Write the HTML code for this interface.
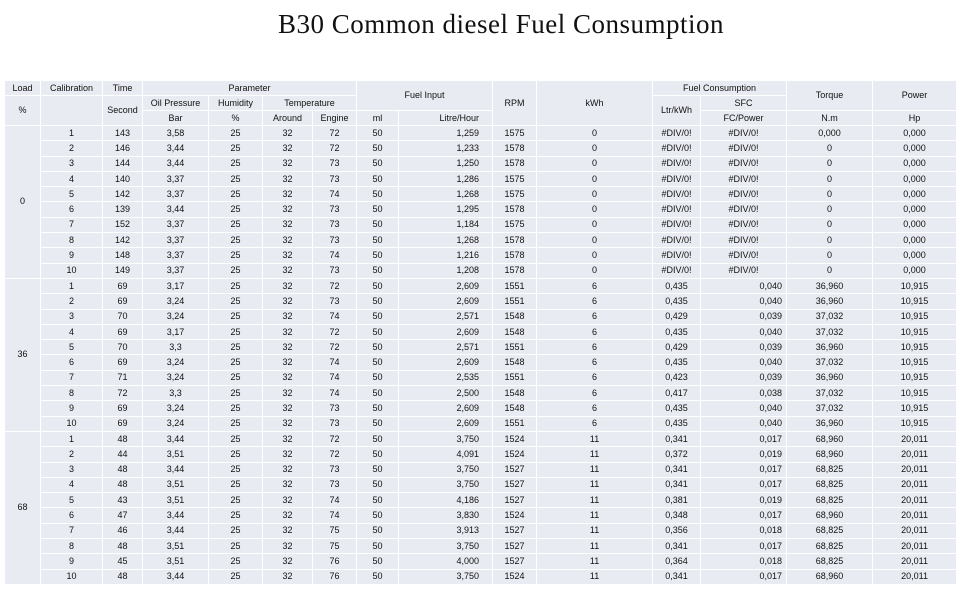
<!DOCTYPE html>
<html><head><meta charset="utf-8"><style>
html,body{margin:0;padding:0;background:#fff;width:960px;height:591px;overflow:hidden}
h1{position:absolute;left:0;width:1002px;top:9px;margin:0;text-align:center;font:27px "Liberation Serif",serif;color:#111;letter-spacing:0.5px}
table{position:absolute;left:4px;top:80px;width:952px;border-collapse:collapse;table-layout:fixed;font:9px "Liberation Sans",sans-serif;color:#111}
td{background:#e8ebf1;border:1px solid #fff;padding:0 3px;text-align:center;white-space:nowrap;overflow:hidden;height:14.3px;line-height:13px}
thead td{height:14px;font-size:9px}
.r{text-align:right;padding-right:13px}
.s{text-align:right;padding-right:4px}
</style></head><body>
<h1>B30 Common diesel Fuel Consumption</h1>
<table>
<colgroup><col style="width:36px"><col style="width:62px"><col style="width:40px"><col style="width:66px"><col style="width:54px"><col style="width:50px"><col style="width:44px"><col style="width:42px"><col style="width:94px"><col style="width:44px"><col style="width:116px"><col style="width:48px"><col style="width:86px"><col style="width:86px"><col style="width:84px"></colgroup>
<thead>
<tr><td>Load</td><td>Calibration</td><td>Time</td><td colspan="4">Parameter</td><td colspan="2" rowspan="2">Fuel Input</td><td rowspan="3">RPM</td><td rowspan="3">kWh</td><td colspan="2">Fuel Consumption</td><td rowspan="2">Torque</td><td rowspan="2">Power</td></tr>
<tr><td rowspan="2">%</td><td rowspan="2"></td><td rowspan="2">Second</td><td>Oil Pressure</td><td>Humidity</td><td colspan="2">Temperature</td><td rowspan="2">Ltr/kWh</td><td>SFC</td></tr>
<tr><td>Bar</td><td>%</td><td>Around</td><td>Engine</td><td>ml</td><td class="r">Litre/Hour</td><td>FC/Power</td><td>N.m</td><td>Hp</td></tr>
</thead>
<tbody>
<tr><td rowspan="10">0</td><td>1</td><td>143</td><td>3,58</td><td>25</td><td>32</td><td>72</td><td>50</td><td class="r">1,259</td><td>1575</td><td>0</td><td>#DIV/0!</td><td>#DIV/0!</td><td>0,000</td><td>0,000</td></tr>
<tr><td>2</td><td>146</td><td>3,44</td><td>25</td><td>32</td><td>72</td><td>50</td><td class="r">1,233</td><td>1578</td><td>0</td><td>#DIV/0!</td><td>#DIV/0!</td><td>0</td><td>0,000</td></tr>
<tr><td>3</td><td>144</td><td>3,44</td><td>25</td><td>32</td><td>73</td><td>50</td><td class="r">1,250</td><td>1578</td><td>0</td><td>#DIV/0!</td><td>#DIV/0!</td><td>0</td><td>0,000</td></tr>
<tr><td>4</td><td>140</td><td>3,37</td><td>25</td><td>32</td><td>73</td><td>50</td><td class="r">1,286</td><td>1575</td><td>0</td><td>#DIV/0!</td><td>#DIV/0!</td><td>0</td><td>0,000</td></tr>
<tr><td>5</td><td>142</td><td>3,37</td><td>25</td><td>32</td><td>74</td><td>50</td><td class="r">1,268</td><td>1575</td><td>0</td><td>#DIV/0!</td><td>#DIV/0!</td><td>0</td><td>0,000</td></tr>
<tr><td>6</td><td>139</td><td>3,44</td><td>25</td><td>32</td><td>73</td><td>50</td><td class="r">1,295</td><td>1578</td><td>0</td><td>#DIV/0!</td><td>#DIV/0!</td><td>0</td><td>0,000</td></tr>
<tr><td>7</td><td>152</td><td>3,37</td><td>25</td><td>32</td><td>73</td><td>50</td><td class="r">1,184</td><td>1575</td><td>0</td><td>#DIV/0!</td><td>#DIV/0!</td><td>0</td><td>0,000</td></tr>
<tr><td>8</td><td>142</td><td>3,37</td><td>25</td><td>32</td><td>73</td><td>50</td><td class="r">1,268</td><td>1578</td><td>0</td><td>#DIV/0!</td><td>#DIV/0!</td><td>0</td><td>0,000</td></tr>
<tr><td>9</td><td>148</td><td>3,37</td><td>25</td><td>32</td><td>74</td><td>50</td><td class="r">1,216</td><td>1578</td><td>0</td><td>#DIV/0!</td><td>#DIV/0!</td><td>0</td><td>0,000</td></tr>
<tr><td>10</td><td>149</td><td>3,37</td><td>25</td><td>32</td><td>73</td><td>50</td><td class="r">1,208</td><td>1578</td><td>0</td><td>#DIV/0!</td><td>#DIV/0!</td><td>0</td><td>0,000</td></tr>
<tr><td rowspan="10">36</td><td>1</td><td>69</td><td>3,17</td><td>25</td><td>32</td><td>72</td><td>50</td><td class="r">2,609</td><td>1551</td><td>6</td><td>0,435</td><td class="s">0,040</td><td>36,960</td><td>10,915</td></tr>
<tr><td>2</td><td>69</td><td>3,24</td><td>25</td><td>32</td><td>73</td><td>50</td><td class="r">2,609</td><td>1551</td><td>6</td><td>0,435</td><td class="s">0,040</td><td>36,960</td><td>10,915</td></tr>
<tr><td>3</td><td>70</td><td>3,24</td><td>25</td><td>32</td><td>74</td><td>50</td><td class="r">2,571</td><td>1548</td><td>6</td><td>0,429</td><td class="s">0,039</td><td>37,032</td><td>10,915</td></tr>
<tr><td>4</td><td>69</td><td>3,17</td><td>25</td><td>32</td><td>72</td><td>50</td><td class="r">2,609</td><td>1548</td><td>6</td><td>0,435</td><td class="s">0,040</td><td>37,032</td><td>10,915</td></tr>
<tr><td>5</td><td>70</td><td>3,3</td><td>25</td><td>32</td><td>72</td><td>50</td><td class="r">2,571</td><td>1551</td><td>6</td><td>0,429</td><td class="s">0,039</td><td>36,960</td><td>10,915</td></tr>
<tr><td>6</td><td>69</td><td>3,24</td><td>25</td><td>32</td><td>74</td><td>50</td><td class="r">2,609</td><td>1548</td><td>6</td><td>0,435</td><td class="s">0,040</td><td>37,032</td><td>10,915</td></tr>
<tr><td>7</td><td>71</td><td>3,24</td><td>25</td><td>32</td><td>74</td><td>50</td><td class="r">2,535</td><td>1551</td><td>6</td><td>0,423</td><td class="s">0,039</td><td>36,960</td><td>10,915</td></tr>
<tr><td>8</td><td>72</td><td>3,3</td><td>25</td><td>32</td><td>74</td><td>50</td><td class="r">2,500</td><td>1548</td><td>6</td><td>0,417</td><td class="s">0,038</td><td>37,032</td><td>10,915</td></tr>
<tr><td>9</td><td>69</td><td>3,24</td><td>25</td><td>32</td><td>73</td><td>50</td><td class="r">2,609</td><td>1548</td><td>6</td><td>0,435</td><td class="s">0,040</td><td>37,032</td><td>10,915</td></tr>
<tr><td>10</td><td>69</td><td>3,24</td><td>25</td><td>32</td><td>73</td><td>50</td><td class="r">2,609</td><td>1551</td><td>6</td><td>0,435</td><td class="s">0,040</td><td>36,960</td><td>10,915</td></tr>
<tr><td rowspan="10">68</td><td>1</td><td>48</td><td>3,44</td><td>25</td><td>32</td><td>72</td><td>50</td><td class="r">3,750</td><td>1524</td><td>11</td><td>0,341</td><td class="s">0,017</td><td>68,960</td><td>20,011</td></tr>
<tr><td>2</td><td>44</td><td>3,51</td><td>25</td><td>32</td><td>72</td><td>50</td><td class="r">4,091</td><td>1524</td><td>11</td><td>0,372</td><td class="s">0,019</td><td>68,960</td><td>20,011</td></tr>
<tr><td>3</td><td>48</td><td>3,44</td><td>25</td><td>32</td><td>73</td><td>50</td><td class="r">3,750</td><td>1527</td><td>11</td><td>0,341</td><td class="s">0,017</td><td>68,825</td><td>20,011</td></tr>
<tr><td>4</td><td>48</td><td>3,51</td><td>25</td><td>32</td><td>73</td><td>50</td><td class="r">3,750</td><td>1527</td><td>11</td><td>0,341</td><td class="s">0,017</td><td>68,825</td><td>20,011</td></tr>
<tr><td>5</td><td>43</td><td>3,51</td><td>25</td><td>32</td><td>74</td><td>50</td><td class="r">4,186</td><td>1527</td><td>11</td><td>0,381</td><td class="s">0,019</td><td>68,825</td><td>20,011</td></tr>
<tr><td>6</td><td>47</td><td>3,44</td><td>25</td><td>32</td><td>74</td><td>50</td><td class="r">3,830</td><td>1524</td><td>11</td><td>0,348</td><td class="s">0,017</td><td>68,960</td><td>20,011</td></tr>
<tr><td>7</td><td>46</td><td>3,44</td><td>25</td><td>32</td><td>75</td><td>50</td><td class="r">3,913</td><td>1527</td><td>11</td><td>0,356</td><td class="s">0,018</td><td>68,825</td><td>20,011</td></tr>
<tr><td>8</td><td>48</td><td>3,51</td><td>25</td><td>32</td><td>75</td><td>50</td><td class="r">3,750</td><td>1527</td><td>11</td><td>0,341</td><td class="s">0,017</td><td>68,825</td><td>20,011</td></tr>
<tr><td>9</td><td>45</td><td>3,51</td><td>25</td><td>32</td><td>76</td><td>50</td><td class="r">4,000</td><td>1527</td><td>11</td><td>0,364</td><td class="s">0,018</td><td>68,825</td><td>20,011</td></tr>
<tr><td>10</td><td>48</td><td>3,44</td><td>25</td><td>32</td><td>76</td><td>50</td><td class="r">3,750</td><td>1524</td><td>11</td><td>0,341</td><td class="s">0,017</td><td>68,960</td><td>20,011</td></tr>
</tbody>
</table>
</body></html>
